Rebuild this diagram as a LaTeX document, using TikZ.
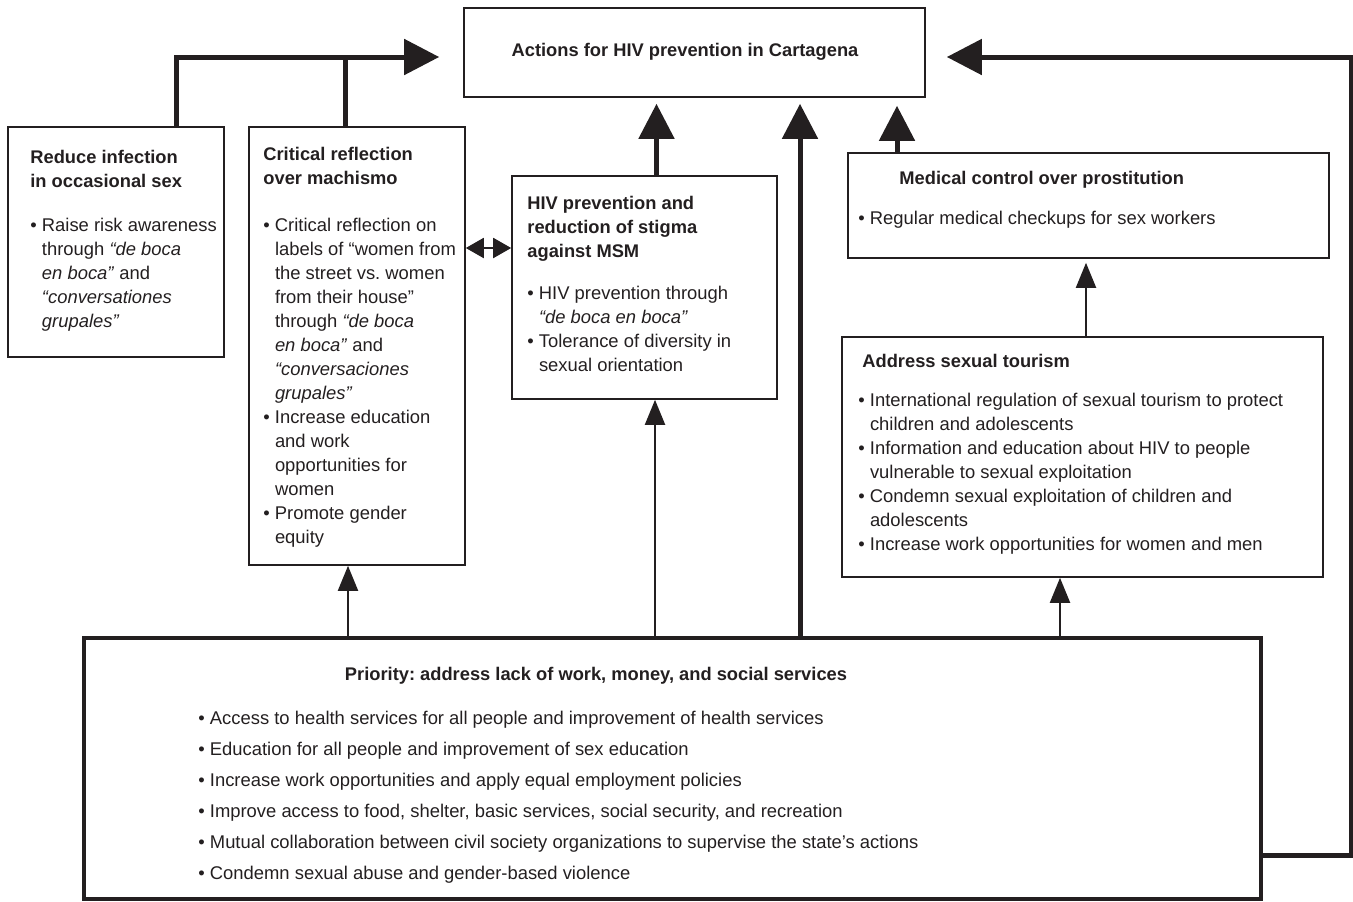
\documentclass[tikz,border=0pt]{standalone}
\usepackage{fontspec}
\setmainfont{Liberation Sans}
\usetikzlibrary{arrows.meta,positioning,fit}
\definecolor{ink}{HTML}{231F20}
\frenchspacing
\newcommand{\hind}{\hspace*{5.8pt}}
\tikzset{
 box/.style={draw=ink,line width=0.8pt,inner sep=0pt,fit={#1}},
 hd/.style={font=\fontsize{9.15}{12}\selectfont\bfseries,align=left,inner sep=0pt,anchor=north west,text=ink},
 bd/.style={font=\fontsize{9.2}{12}\selectfont,align=left,inner sep=0pt,anchor=north west,text=ink},
 bigarrow/.style={draw=ink,line width=2.5pt,-{Triangle[length=17.5pt,width=17.5pt]}},
 smallarrow/.style={draw=ink,line width=1pt,-{Triangle[length=12.5pt,width=10pt]}},
 thickline/.style={draw=ink,line width=2.5pt}
}
\begin{document}
\begin{tikzpicture}[x=0.5pt,y=-0.5pt]
 \useasboundingbox (0,0) rectangle (1353,901);
 % boxes
 \node[box={(464,8) (925,97)}] (top) {};
 \node[box={(8,127) (224,357)}] (reduce) {};
 \node[box={(249,127) (465,565)}] (crit) {};
 \node[box={(512,176) (777,399)}] (hiv) {};
 \node[box={(848,153) (1329,258)}] (med) {};
 \node[box={(842,337) (1323,577)}] (tour) {};
 \node[box={(84,638) (1261,899)},line width=2pt] (prio) {};
 % texts
 \node[hd,anchor=center] (topT) at (685,52) {Actions for HIV prevention in Cartagena};
 \node[hd] (reduceT) at (30,150) {Reduce infection\\in occasional sex};
 \node[bd] (reduceB) at (30,218) {• Raise risk awareness\\
 \hind through \textit{“de boca}\\
 \hind\textit{en boca”} and\\
 \hind\textit{“conversationes}\\
 \hind\textit{grupales”}};
 \node[hd] (critT) at (263,147) {Critical reflection\\over machismo};
 \node[bd] (critB) at (263,218) {• Critical reflection on\\
 \hind labels of “women from\\
 \hind the street vs. women\\
 \hind from their house”\\
 \hind through \textit{“de boca}\\
 \hind\textit{en boca”} and\\
 \hind\textit{“conversaciones}\\
 \hind\textit{grupales”}\\
 • Increase education\\
 \hind and work\\
 \hind opportunities for\\
 \hind women\\
 • Promote gender\\
 \hind equity};
 \node[hd] (hivT) at (527,196) {HIV prevention and\\reduction of stigma\\against MSM};
 \node[bd] (hivB) at (527,286) {• HIV prevention through\\
 \hind\textit{“de boca en boca”}\\
 • Tolerance of diversity in\\
 \hind sexual orientation};
 \node[hd] (medT) at (899,171) {Medical control over prostitution};
 \node[bd] (medB) at (858,211) {• Regular medical checkups for sex workers};
 \node[hd] (tourT) at (862,354) {Address sexual tourism};
 \node[bd] (tourB) at (858,393) {• International regulation of sexual tourism to protect\\
 \hind children and adolescents\\
 • Information and education about HIV to people\\
 \hind vulnerable to sexual exploitation\\
 • Condemn sexual exploitation of children and\\
 \hind adolescents\\
 • Increase work opportunities for women and men};
 \node[hd,anchor=center] (prioT) at (596,676) {Priority: address lack of work, money, and social services};
 \node[bd] (prioB) at (198,711) {• Access to health services for all people and improvement of health services\\[3.5pt]
 • Education for all people and improvement of sex education\\[3.5pt]
 • Increase work opportunities and apply equal employment policies\\[3.5pt]
 • Improve access to food, shelter, basic services, social security, and recreation\\[3.5pt]
 • Mutual collaboration between civil society organizations to supervise the state’s actions\\[3.5pt]
 • Condemn sexual abuse and gender-based violence};
 % feed lines into the top box
 \coordinate (feedL) at ([shift={(-12pt,-2.25pt)}]top.west);
 \coordinate (feedR) at ([shift={(10.5pt,-2.25pt)}]top.east);
 \draw[bigarrow] ([xshift=30pt]reduce.north) |- (feedL);
 \draw[thickline] ([xshift=-6pt]crit.north) -- ([xshift=-6pt]crit.north |- feedL);
 \draw[bigarrow] ([yshift=-43.5pt]prio.east) -- ++(88,0) |- (feedR);
 \draw[bigarrow,shorten >=3pt] ([xshift=6pt]hiv.north) -- ([xshift=6pt]hiv.north |- top.south);
 \draw[bigarrow,shorten >=3pt] ([xshift=52.75pt]top.south |- prio.north) -- ([xshift=52.75pt]top.south);
 \draw[bigarrow,shorten >=4pt] ([xshift=101.25pt]top.south |- med.north) -- ([xshift=101.25pt]top.south);
 % thin links
 \draw[draw=ink,line width=1pt,{Triangle[length=9pt,width=10pt]}-{Triangle[length=9pt,width=10pt]}]
 ([yshift=49pt]crit.east) -- ([yshift=49pt]crit.east -| hiv.west);
 \draw[smallarrow,shorten >=2pt] ([xshift=1.75pt]tour.north) -- ([xshift=1.75pt]tour.north |- med.south);
 \draw[smallarrow] ([xshift=-4.5pt]crit.south |- prio.north) -- ([xshift=-4.5pt]crit.south);
 \draw[smallarrow] ([xshift=5.25pt]hiv.south |- prio.north) -- ([xshift=5.25pt]hiv.south);
 \draw[smallarrow] ([xshift=-11.25pt]tour.south |- prio.north) -- ([xshift=-11.25pt]tour.south);
\end{tikzpicture}
\end{document}
